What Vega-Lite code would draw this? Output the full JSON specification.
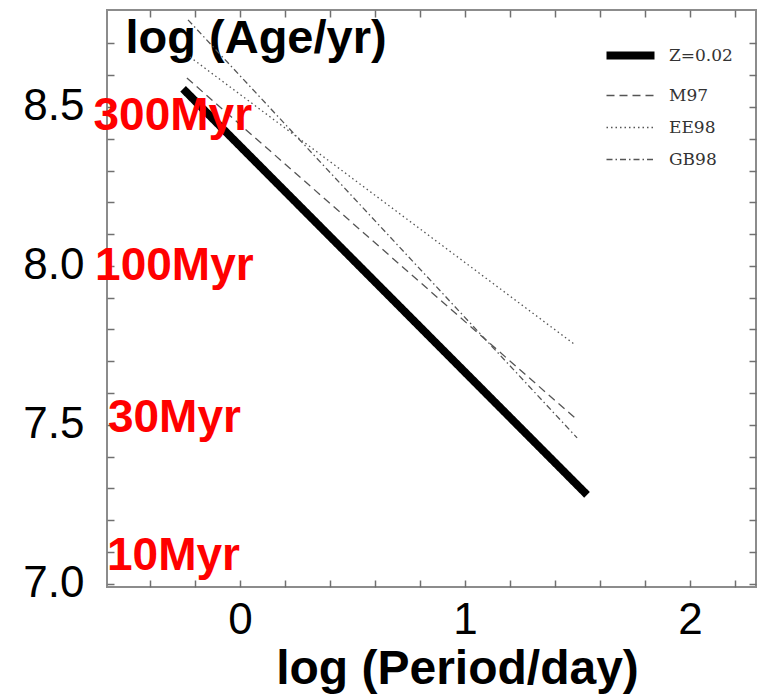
{
  "$schema": "https://vega.github.io/schema/vega-lite/v6.json",
  "width": 649,
  "height": 577,
  "autosize": {"type": "none"},
  "padding": {"left": 107, "top": 10, "right": 5, "bottom": 110},
  "config": {
    "view": {"stroke": "#8c8c8c", "strokeWidth": 2},
    "font": "Liberation Sans",
    "axis": {
      "domain": false,
      "grid": false,
      "tickColor": "#707070",
      "tickWidth": 1.5,
      "tickSize": -7,
      "labelFont": "Liberation Sans",
      "labelFontSize": 44,
      "labelColor": "#000000",
      "labelOverlap": false,
      "labelBound": false,
      "labelFlush": false
    }
  },
  "resolve": {"axis": {"x": "independent", "y": "independent"}},
  "layer": [
    {
      "data": {
        "values": [
          {"series": "Z=0.02", "logP": -0.253, "logAge": 8.557},
          {"series": "Z=0.02", "logP": 1.542, "logAge": 7.28},
          {"series": "M97", "logP": -0.236, "logAge": 8.591},
          {"series": "M97", "logP": 1.498, "logAge": 7.516},
          {"series": "EE98", "logP": -0.222, "logAge": 8.657},
          {"series": "EE98", "logP": 1.489, "logAge": 7.752},
          {"series": "GB98", "logP": -0.231, "logAge": 8.774},
          {"series": "GB98", "logP": 1.498, "logAge": 7.459}
        ]
      },
      "mark": {"type": "line", "clip": false},
      "encoding": {
        "x": {
          "field": "logP",
          "type": "quantitative",
          "scale": {"domain": [-0.591, 2.293], "nice": false, "zero": false},
          "axis": {
            "orient": "bottom",
            "values": [-0.4, -0.2, 0, 0.2, 0.4, 0.6, 0.8, 1, 1.2, 1.4, 1.6, 1.8, 2, 2.2],
            "labelExpr": "abs(datum.value - round(datum.value)) < 0.001 ? format(datum.value, 'd') : ''",
            "labelPadding": 18,
            "title": "log (Period/day)",
            "titleFont": "Liberation Sans",
            "titleFontSize": 48,
            "titleFontWeight": "bold",
            "titleColor": "#000000",
            "titleX": 350,
            "titleY": 96,
            "titleAlign": "center",
            "titleBaseline": "alphabetic",
            "encode": {
              "ticks": {"update": {"y2": {"signal": "abs(datum.value - round(datum.value)) < 0.001 ? -12 : -7"}}}
            }
          }
        },
        "y": {
          "field": "logAge",
          "type": "quantitative",
          "scale": {"domain": [6.99, 8.805], "nice": false, "zero": false},
          "axis": {
            "orient": "left",
            "values": [7, 7.1, 7.2, 7.3, 7.4, 7.5, 7.6, 7.7, 7.8, 7.9, 8, 8.1, 8.2, 8.3, 8.4, 8.5, 8.6, 8.7],
            "labelExpr": "abs(datum.value * 2 - round(datum.value * 2)) < 0.001 ? format(datum.value, '.1f') : ''",
            "labelPadding": 30,
            "title": "log (Age/yr)",
            "titleFont": "Liberation Sans",
            "titleFontSize": 47,
            "titleFontWeight": "bold",
            "titleColor": "#000000",
            "titleAngle": 0,
            "titleX": 18,
            "titleY": 42,
            "titleAlign": "left",
            "titleBaseline": "alphabetic",
            "encode": {
              "ticks": {"update": {"x2": {"signal": "abs(datum.value * 2 - round(datum.value * 2)) < 0.001 ? 10 : 6"}}}
            }
          }
        },
        "color": {
          "field": "series",
          "type": "nominal",
          "scale": {"domain": ["Z=0.02", "M97", "EE98", "GB98"], "range": ["#000000", "#555555", "#555555", "#555555"]},
          "legend": {
            "orient": "none",
            "legendX": 515,
            "legendY": 37,
            "title": null,
            "padding": 0,
            "symbolType": "M-1.5,0H1.5",
            "symbolSize": 1024,
            "labelOffset": 30,
            "rowPadding": 14,
            "labelFont": "DejaVu Serif",
            "labelFontSize": 17,
            "labelColor": "#333333",
            "encode": {
              "symbols": {"update": {"strokeWidth": {"signal": "datum.value === 'Z=0.02' ? 8 : 1.3"}}}
            }
          }
        },
        "strokeDash": {
          "field": "series",
          "type": "nominal",
          "scale": {"domain": ["Z=0.02", "M97", "EE98", "GB98"], "range": [[1, 0], [8, 5], [1.5, 3], [6, 3, 1.5, 3]]},
          "legend": {
            "orient": "none",
            "legendX": 515,
            "legendY": 37,
            "title": null,
            "padding": 0,
            "symbolType": "M-1.5,0H1.5",
            "symbolSize": 1024,
            "labelOffset": 30,
            "rowPadding": 14,
            "labelFont": "DejaVu Serif",
            "labelFontSize": 17,
            "labelColor": "#333333",
            "encode": {
              "symbols": {"update": {"strokeWidth": {"signal": "datum.value === 'Z=0.02' ? 8 : 1.3"}}}
            }
          }
        },
        "strokeWidth": {
          "condition": {"test": "datum.series === 'Z=0.02'", "value": 8},
          "value": 1.3
        }
      }
    },
    {
      "data": {
        "values": [
          {"label": "300Myr", "logP": -0.651, "logAge": 8.428},
          {"label": "100Myr", "logP": -0.644, "logAge": 7.956},
          {"label": "30Myr", "logP": -0.587, "logAge": 7.478},
          {"label": "10Myr", "logP": -0.591, "logAge": 7.044}
        ]
      },
      "mark": {
        "type": "text",
        "font": "Liberation Sans",
        "fontSize": 46,
        "fontWeight": "bold",
        "color": "#ff0000",
        "align": "left",
        "baseline": "alphabetic",
        "clip": false
      },
      "encoding": {
        "x": {
          "field": "logP",
          "type": "quantitative",
          "axis": {
            "orient": "top",
            "values": [-0.4, -0.2, 0, 0.2, 0.4, 0.6, 0.8, 1, 1.2, 1.4, 1.6, 1.8, 2, 2.2],
            "labels": false,
            "title": null,
            "encode": {
              "ticks": {"update": {"y2": {"signal": "abs(datum.value - round(datum.value)) < 0.001 ? 12 : 6"}}}
            }
          }
        },
        "y": {
          "field": "logAge",
          "type": "quantitative",
          "axis": {
            "orient": "right",
            "values": [7, 7.1, 7.2, 7.3, 7.4, 7.5, 7.6, 7.7, 7.8, 7.9, 8, 8.1, 8.2, 8.3, 8.4, 8.5, 8.6, 8.7],
            "labels": false,
            "title": null,
            "encode": {
              "ticks": {"update": {"x2": {"signal": "abs(datum.value * 2 - round(datum.value * 2)) < 0.001 ? -10 : -6"}}}
            }
          }
        },
        "text": {"field": "label", "type": "nominal"}
      }
    }
  ]
}
